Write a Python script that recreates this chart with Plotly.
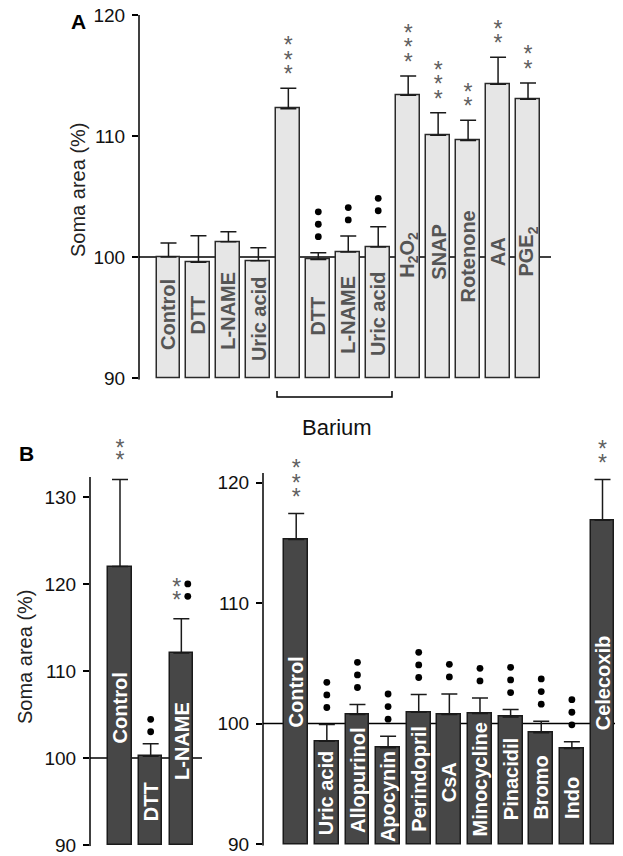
import plotly.graph_objects as go

# ---------------- data ----------------
# Panel A
a_categories = ["Control", "DTT", "L-NAME", "Uric acid", "Barium control", "Barium DTT",
                "Barium L-NAME", "Barium Uric acid", "H2O2", "SNAP", "Rotenone", "AA", "PGE2"]
a_bar_text = ["Control", "DTT", "L-NAME", "Uric acid", "", "DTT", "L-NAME", "Uric acid",
              "H<sub>2</sub>O<sub>2</sub>", "SNAP", "Rotenone", "AA", "PGE<sub>2</sub>"]
a_values = [100.0, 99.57, 101.26, 99.69, 112.26, 99.8, 100.41, 100.83, 113.36, 110.06, 109.62, 114.27, 113.03]
a_sem = [1.16, 2.19, 0.83, 1.07, 1.68, 0.56, 1.33, 1.67, 1.60, 1.87, 1.68, 2.23, 1.35]
a_stars = [0, 0, 0, 0, 3, 0, 0, 0, 3, 3, 2, 2, 2]
a_dots = [0, 0, 0, 0, 0, 3, 2, 2, 0, 0, 0, 0, 0]
a_ticks = [90, 100, 110, 120]

# Panel B (left)
b1_categories = ["Control", "DTT", "L-NAME"]
b1_values = [122.0, 100.2, 112.07]
b1_sem = [10.0, 1.44, 3.93]
b1_stars = [2, 0, 2]
b1_dots = [0, 2, 2]
b1_ticks = [90, 100, 110, 120, 130]

# Panel B (right)
b2_categories = ["Control", "Uric acid", "Allopurinol", "Apocynin", "Perindopril", "CsA",
                 "Minocycline", "Pinacidil", "Bromo", "Indo", "Celecoxib"]
b2_values = [115.27, 98.53, 100.75, 97.98, 100.94, 100.75, 100.83, 100.55, 99.23, 97.93, 116.87]
b2_sem = [2.16, 1.39, 0.83, 0.97, 1.47, 1.71, 1.30, 0.61, 0.97, 0.55, 3.38]
b2_stars = [3, 0, 0, 0, 0, 0, 0, 0, 0, 0, 2]
b2_dots = [0, 3, 3, 3, 3, 2, 2, 3, 3, 3, 0]
b2_ticks = [90, 100, 110, 120]

# ---------------- layout helpers (style / positions) ----------------
OFF = 8                     # page body margin of the viewer
W, H = 623 - OFF, 856 - OFF
FONT = "Liberation Sans, Arial, sans-serif"


def fx(px):
    return min(1.0, max(0.0, (px - OFF) / W))


def fy(py):
    return min(1.0, max(0.0, 1 - (py - OFF) / H))


a_label_y = [95.25, 95.2, 95.6, 94.9, None, 95.1, 95.25, 95.3, 100.2, 100.45, 100.05, 100.4, 100.45]
b1_label_y = [105.7, 95.0, 102.0]
b2_label_y = [102.6, 94.2, 95.35, 93.9, 95.4, 95.15, 95.35, 95.35, 94.7, 93.8, 103.3]

panels = [
    dict(xa="x", ya="y", text=a_bar_text, vals=a_values, sem=a_sem, stars=a_stars, dots=a_dots,
         label_y=a_label_y, px_left=139, px_right=551, first_center=168.5, pitch=29.96, bar_w=0.8,
         py_axis_top=15, py_bot=378, axis_top=120, range_top=120.4, ticks=a_ticks,
         fill="#e6e6e6", edge="#2a2a2a", label_color="#555555",
         star_off=17.3, dot_off=16, star_sp=14.5, dot_sp=12.4),
    dict(xa="x2", ya="y2", text=b1_categories, vals=b1_values, sem=b1_sem, stars=b1_stars, dots=b1_dots,
         label_y=b1_label_y, px_left=90, px_right=202, first_center=120.0, pitch=30.67, bar_w=0.77,
         py_axis_top=477, py_bot=845, axis_top=132.3, range_top=137, ticks=b1_ticks,
         fill="#474747", edge="#1a1a1a", label_color="white",
         star_off=22.5, dot_off=12, star_sp=12.4, dot_sp=12.4),
    dict(xa="x3", ya="y3", text=b2_categories, vals=b2_values, sem=b2_sem, stars=b2_stars, dots=b2_dots,
         label_y=b2_label_y, px_left=263, px_right=623, first_center=296.2, pitch=30.63, bar_w=0.78,
         py_axis_top=473, py_bot=844, axis_top=120.8, range_top=124, ticks=b2_ticks,
         fill="#474747", edge="#1a1a1a", label_color="white",
         star_off=20, dot_off=17, star_sp=14.3, dot_sp=12.6),
]

fig = go.Figure()
annotations = []
shapes = []
layout_axes = {}

for k, p in enumerate(panels):
    n = len(p["vals"])
    xs = list(range(n))
    ppu = (p["py_bot"] - p["py_axis_top"]) / (p["axis_top"] - 90)
    ylo = 90 - 0.15
    py_dom_bot = p["py_bot"] + 0.15 * ppu
    py_dom_top = p["py_bot"] - (p["range_top"] - 90) * ppu
    xr = [(p["px_left"] - p["first_center"]) / p["pitch"], (p["px_right"] - p["first_center"]) / p["pitch"]]

    # bars (from 90 up to value)
    fig.add_trace(go.Bar(
        x=xs, y=[v - 90 for v in p["vals"]], base=[90] * n, width=p["bar_w"],
        marker=dict(color=p["fill"], line=dict(color=p["edge"], width=1.5)),
        xaxis=p["xa"], yaxis=p["ya"], showlegend=False, hoverinfo="skip"))
    # error bars (upper only)
    fig.add_trace(go.Scatter(
        x=xs, y=p["vals"], mode="markers", marker=dict(size=1, opacity=0),
        error_y=dict(type="data", symmetric=False, array=p["sem"], arrayminus=[0] * n,
                     color="#1a1a1a", thickness=1.5, width=8),
        xaxis=p["xa"], yaxis=p["ya"], showlegend=False, hoverinfo="skip"))

    # significance marks
    sx, sy, dx, dy = [], [], [], []
    for i in range(n):
        top = p["vals"][i] + p["sem"][i]
        both = p["stars"][i] > 0 and p["dots"][i] > 0
        for j in range(p["stars"][i]):
            off = p["star_off"] + j * p["star_sp"] - 5.5
            sx.append(i - (0.15 if both else 0))
            sy.append(top + off / ppu)
        for j in range(p["dots"][i]):
            if both:
                off = p["star_off"] + j * p["star_sp"]
            else:
                off = p["dot_off"] + j * p["dot_sp"]
            dx.append(i + (0.21 if both else 0))
            dy.append(top + off / ppu)
    if sx:
        fig.add_trace(go.Scatter(
            x=sx, y=sy, mode="text", text=["*"] * len(sx), textposition="middle center",
            textfont=dict(family=FONT, size=23, color="#606060"),
            xaxis=p["xa"], yaxis=p["ya"], showlegend=False, hoverinfo="skip", cliponaxis=False))
    if dx:
        fig.add_trace(go.Scatter(
            x=dx, y=dy, mode="markers", marker=dict(symbol="circle", size=6.8, color="black"),
            xaxis=p["xa"], yaxis=p["ya"], showlegend=False, hoverinfo="skip", cliponaxis=False))

    # labels inside bars
    for i in range(n):
        if not p["text"][i]:
            continue
        annotations.append(dict(
            x=i, y=p["label_y"][i], xref=p["xa"], yref=p["ya"], text="<b>" + p["text"][i] + "</b>",
            textangle=-90, showarrow=False, xanchor="center", yanchor="middle",
            font=dict(family=FONT, size=20, color=p["label_color"])))

    # reference line at 100 (behind bars)
    shapes.append(dict(type="line", xref=p["xa"] + " domain", yref=p["ya"], x0=0, x1=1, y0=100, y1=100,
                       line=dict(color="black", width=1.5), layer="below"))
    # y axis line (ends at axis_top)
    shapes.append(dict(type="line", xref=p["xa"] + " domain", yref=p["ya"], x0=0, x1=0,
                       y0=ylo, y1=p["axis_top"], line=dict(color="black", width=1.5), layer="above"))

    suffix = "" if k == 0 else str(k + 1)
    layout_axes["xaxis" + suffix] = dict(domain=[fx(p["px_left"]), fx(p["px_right"])], range=xr,
                                         visible=False, anchor=p["ya"], fixedrange=True, automargin=False)
    layout_axes["yaxis" + suffix] = dict(
        domain=[fy(py_dom_bot), fy(py_dom_top)], range=[ylo, p["range_top"]], anchor=p["xa"],
        tickvals=p["ticks"], ticks="outside", ticklen=6, tickwidth=1.5, tickcolor="black",
        showline=False, showgrid=False, zeroline=False, automargin=False, ticklabeloverflow="allow",
        tickfont=dict(family=FONT, size=19, color="#111111"), ticklabelstandoff=3)

# axis titles
annotations.append(dict(x=fx(78), y=fy(190), xref="paper", yref="paper", text="Soma area (%)",
                        textangle=-90, showarrow=False, xanchor="center", yanchor="middle",
                        font=dict(family=FONT, size=20, color="#222222")))
annotations.append(dict(x=fx(25), y=fy(657), xref="paper", yref="paper", text="Soma area (%)",
                        textangle=-90, showarrow=False, xanchor="center", yanchor="middle",
                        font=dict(family=FONT, size=20, color="#222222")))
# panel letters
annotations.append(dict(x=fx(78), y=fy(21.5), xref="paper", yref="paper", text="<b>A</b>",
                        showarrow=False, xanchor="center", yanchor="middle",
                        font=dict(family=FONT, size=21, color="black")))
annotations.append(dict(x=fx(26), y=fy(453), xref="paper", yref="paper", text="<b>B</b>",
                        showarrow=False, xanchor="center", yanchor="middle",
                        font=dict(family=FONT, size=21, color="black")))
# Barium bracket
annotations.append(dict(x=fx(337), y=fy(428), xref="paper", yref="paper", text="Barium",
                        showarrow=False, xanchor="center", yanchor="middle",
                        font=dict(family=FONT, size=22, color="#111111")))
shapes.append(dict(type="path", xref="paper", yref="paper",
                   path=f"M {fx(277)} {fy(391)} L {fx(277)} {fy(397)} L {fx(392)} {fy(397)} L {fx(392)} {fy(391)}",
                   line=dict(color="black", width=1.5)))

fig.update_layout(
    width=W, height=H, margin=dict(l=0, r=0, t=0, b=0, pad=0, autoexpand=False),
    paper_bgcolor="white", plot_bgcolor="rgba(0,0,0,0)",
    annotations=annotations, shapes=shapes, bargap=0, showlegend=False,
    **layout_axes)

fig.write_html("out.html")
